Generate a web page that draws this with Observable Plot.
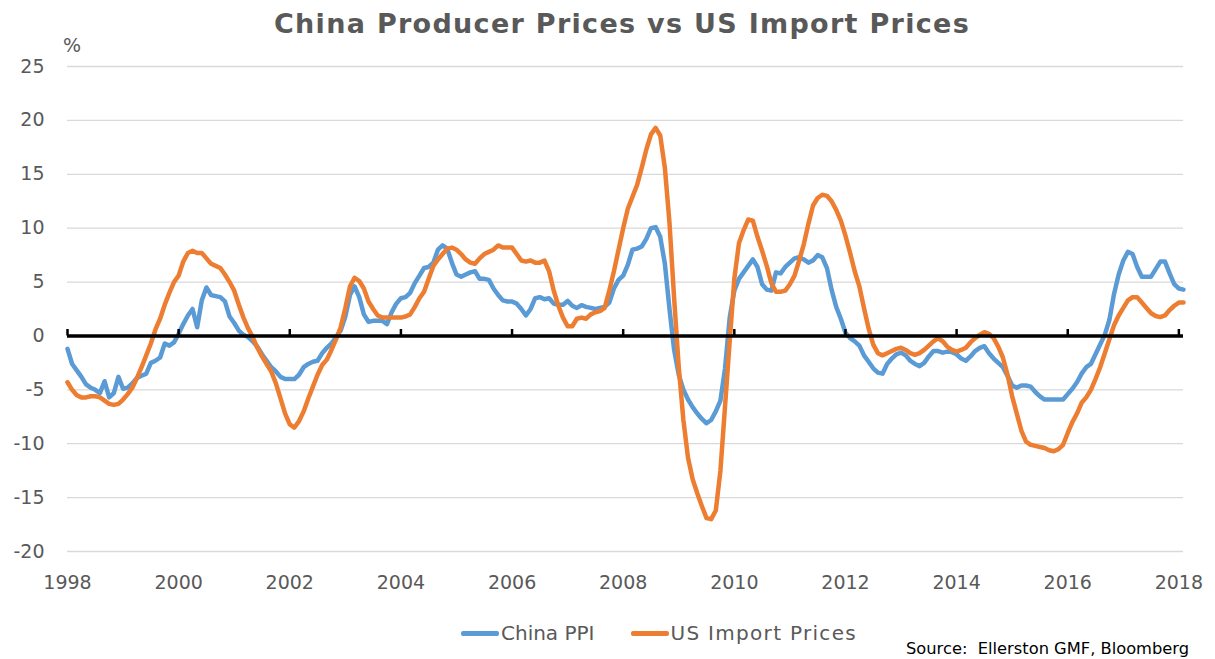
<!DOCTYPE html>
<html>
<head>
<meta charset="utf-8">
<script src="https://cdn.jsdelivr.net/npm/d3@7"></script>
<script src="https://cdn.jsdelivr.net/npm/@observablehq/plot@0.6"></script>
<style>
  body { margin: 0; background: #fff; }
  #wrap { position: relative; width: 1215px; height: 659px; overflow: hidden; font-family: "DejaVu Sans", Verdana, sans-serif; color: #595959; background: #fff; }
  #title { position: absolute; left: 0; width: 1244px; top: 10px; text-align: center; font-size: 27px; letter-spacing: 1.3px; font-weight: bold; line-height: 1; z-index: 2; }
  #unit { position: absolute; left: 63px; top: 36px; font-size: 19px; line-height: 1; z-index: 2; }
  #chart { position: absolute; left: 0; top: 44px; z-index: 1; }
  #legend { position: absolute; left: 461px; top: 623px; display: flex; align-items: center; font-size: 20px; line-height: 20px; height: 20px; z-index: 2; }
  .sw { display: inline-block; width: 38px; height: 5px; border-radius: 2px; margin-right: 2px; }
  #source { position: absolute; left: 906px; top: 641px; font-size: 16.3px; line-height: 1; color: #000; z-index: 2; }
</style>
</head>
<body>
<div id="wrap">
  <div id="chart"></div>
  <div id="title">China Producer Prices vs US Import Prices</div>
  <div id="unit">%</div>
  <div id="legend"></div>
  <div id="source">Source:&nbsp; Ellerston GMF, Bloomberg</div>
</div>
<script>
const startYear = 1998;
const seriesNames = ["China PPI", "US Import Prices"];
const seriesColors = ["#5B9BD5", "#ED7D31"];
const xTicks = [1998, 2000, 2002, 2004, 2006, 2008, 2010, 2012, 2014, 2016, 2018];
const yTicks = [-20, -15, -10, -5, 0, 5, 10, 15, 20, 25];

// Monthly values, Jan 1998 onward (%, y/y)
const chinaPPI = [
  -1.2, -2.6, -3.2, -3.8, -4.5, -4.8, -5.0, -5.3, -4.2, -5.7, -5.3, -3.8,
  -4.9, -4.8, -4.4, -3.9, -3.7, -3.5, -2.5, -2.3, -2.0, -0.7, -0.9, -0.6,
  0.2, 1.1, 1.9, 2.5, 0.8, 3.3, 4.5, 3.8, 3.7, 3.6, 3.2, 1.8,
  1.2, 0.5, 0.1, -0.1, -0.5, -1.0, -1.7, -2.3, -2.9, -3.3, -3.8, -4.0,
  -4.0, -4.0, -3.6, -2.9, -2.6, -2.4, -2.3, -1.6, -1.1, -0.7, -0.1, 0.5,
  1.8, 3.8, 4.6, 3.6, 2.0, 1.3, 1.4, 1.4, 1.4, 1.1, 2.2, 3.0,
  3.5, 3.6, 4.0, 4.9, 5.6, 6.3, 6.4, 6.8, 8.0, 8.4, 8.1, 6.8,
  5.7, 5.5, 5.7, 5.9, 6.0, 5.3, 5.3, 5.2, 4.4, 3.8, 3.3, 3.2,
  3.2, 3.0, 2.5, 1.9, 2.5, 3.5, 3.6, 3.4, 3.5, 3.0, 2.9, 2.9,
  3.25, 2.8, 2.6, 2.85, 2.7, 2.6, 2.5, 2.6, 2.7, 3.1, 4.4, 5.2,
  5.6, 6.6, 8.0, 8.1, 8.3, 9.0, 10.0, 10.1, 9.2, 6.7, 2.5, -1.3,
  -3.6, -5.0, -5.9, -6.6, -7.2, -7.7, -8.1, -7.8, -7.0, -6.0, -3.0, 1.7,
  4.2, 5.3, 5.9, 6.5, 7.1, 6.4, 4.8, 4.3, 4.2, 5.9, 5.8, 6.4,
  6.8, 7.2, 7.3, 7.1, 6.8, 7.0, 7.5, 7.3, 6.3, 4.3, 2.7, 1.6,
  0.3, -0.2, -0.5, -0.9, -1.8, -2.4, -3.0, -3.4, -3.5, -2.6, -2.1, -1.7,
  -1.55, -1.8, -2.3, -2.6, -2.8, -2.5, -1.9, -1.4, -1.4, -1.55, -1.45, -1.5,
  -1.7, -2.1, -2.3, -1.9, -1.4, -1.1, -0.95, -1.6, -2.1, -2.5, -2.9, -3.7,
  -4.6, -4.8, -4.6, -4.6, -4.7, -5.2, -5.6, -5.9, -5.9, -5.9, -5.9, -5.9,
  -5.4, -4.9, -4.3, -3.5, -2.9, -2.6, -1.7, -0.8, 0.1, 1.5, 3.9, 5.7,
  7.0, 7.8, 7.6, 6.4, 5.5, 5.5, 5.5, 6.2, 6.9, 6.9, 5.8, 4.8,
  4.4, 4.3
];

const usImportPrices = [
  -4.3, -5.0, -5.5, -5.7, -5.7, -5.6, -5.6, -5.7, -6.0, -6.3, -6.4, -6.3,
  -5.9, -5.4, -4.8, -3.9, -2.9, -1.8, -0.7, 0.6, 1.6, 2.9, 4.0, 5.0,
  5.6, 6.9, 7.7, 7.9, 7.7, 7.7, 7.2, 6.7, 6.5, 6.3, 5.7, 5.0,
  4.2, 2.9, 1.7, 0.7, -0.1, -1.1, -1.9, -2.6, -3.3, -4.4, -5.8, -7.2,
  -8.2, -8.5, -7.9, -7.0, -5.8, -4.7, -3.6, -2.7, -2.2, -1.3, -0.3, 0.8,
  2.6, 4.6, 5.4, 5.1, 4.4, 3.2, 2.5, 1.9, 1.7, 1.7, 1.7, 1.7,
  1.7, 1.8, 2.0, 2.7, 3.5, 4.1, 5.3, 6.5, 7.1, 7.6, 8.1, 8.2,
  8.0, 7.6, 7.1, 6.8, 6.7, 7.2, 7.6, 7.8, 8.0, 8.4, 8.2, 8.2,
  8.2, 7.6, 7.0, 6.9, 7.0, 6.8, 6.8, 7.0, 6.0, 4.2, 2.8, 1.7,
  0.9, 0.9, 1.6, 1.7, 1.6, 2.0, 2.2, 2.3, 2.6, 4.2, 6.0, 8.0,
  10.0, 11.8, 12.9, 14.0, 15.6, 17.3, 18.7, 19.3, 18.6, 15.6, 10.5, 3.5,
  -2.9, -7.8, -11.3, -13.3, -14.6, -15.8, -16.9, -17.0, -16.2, -12.5, -6.5, -0.5,
  5.3, 8.6, 9.8, 10.8, 10.7, 9.2, 7.9, 6.5, 4.9, 4.1, 4.1, 4.2,
  4.8, 5.6, 7.0, 8.5, 10.4, 12.1, 12.8, 13.1, 13.0, 12.5, 11.7, 10.7,
  9.3, 7.7, 6.0, 4.6, 2.6, 0.7, -0.8, -1.6, -1.8, -1.6, -1.4, -1.2,
  -1.1, -1.3, -1.6, -1.75, -1.6, -1.3, -0.9, -0.5, -0.2, -0.5, -1.0, -1.3,
  -1.45, -1.3, -1.1, -0.6, -0.2, 0.1, 0.35, 0.2, -0.2, -1.0, -2.0, -3.6,
  -5.6, -7.2, -8.8, -9.8, -10.1, -10.2, -10.3, -10.4, -10.6, -10.7, -10.5, -10.1,
  -9.0, -8.0, -7.2, -6.2, -5.7, -5.0, -4.0, -2.9, -1.6, -0.3, 1.0, 1.9,
  2.6, 3.3, 3.6, 3.6, 3.1, 2.6, 2.1, 1.85, 1.75, 1.9, 2.4, 2.8,
  3.1, 3.1
];

const toRows = (vals) => vals.map((v, i) => ({t: startYear + i / 12, v}));
const chinaRows = toRows(chinaPPI);
const usRows = toRows(usImportPrices);
const lastT = startYear + (chinaPPI.length - 1) / 12;

const chart = Plot.plot({
  width: 1215,
  height: 555,
  marginLeft: 67,
  marginRight: 32,
  marginTop: 22,
  marginBottom: 48,
  style: {fontFamily: "DejaVu Sans, Verdana, sans-serif", color: "#595959", background: "transparent", overflow: "visible"},
  x: {type: "linear", domain: [startYear, lastT]},
  y: {domain: [yTicks[0], yTicks[yTicks.length - 1]]},
  marks: [
    Plot.ruleY(yTicks.filter(d => d !== 0), {stroke: "#d9d9d9", strokeWidth: 1.3}),
    Plot.line(chinaRows, {x: "t", y: "v", stroke: seriesColors[0], strokeWidth: 4.5, strokeLinejoin: "round", strokeLinecap: "round"}),
    Plot.line(usRows, {x: "t", y: "v", stroke: seriesColors[1], strokeWidth: 4.5, strokeLinejoin: "round", strokeLinecap: "round"}),
    Plot.ruleY([0], {stroke: "#000", strokeWidth: 3.5}),
    Plot.ruleX(xTicks, {x: d => d, y1: 0, y2: 0.6, stroke: "#000", strokeWidth: 2.5}),
    Plot.axisY({ticks: yTicks, tickSize: 0, tickPadding: 23, fontSize: 19, label: null, tickFormat: d => String(d)}),
    Plot.axisX({ticks: xTicks, tickSize: 0, tickPadding: 24, fontSize: 19, label: null, tickFormat: d => String(d)})
  ]
});
document.getElementById("chart").appendChild(chart);

const legend = document.getElementById("legend");
seriesNames.forEach((name, i) => {
  const sw = document.createElement("span");
  sw.className = "sw";
  sw.style.background = seriesColors[i];
  const tx = document.createElement("span");
  tx.textContent = name;
  if (i === 0) tx.style.marginRight = "36px";
  else tx.style.letterSpacing = "1.3px";
  legend.appendChild(sw);
  legend.appendChild(tx);
});
</script>
</body>
</html>
